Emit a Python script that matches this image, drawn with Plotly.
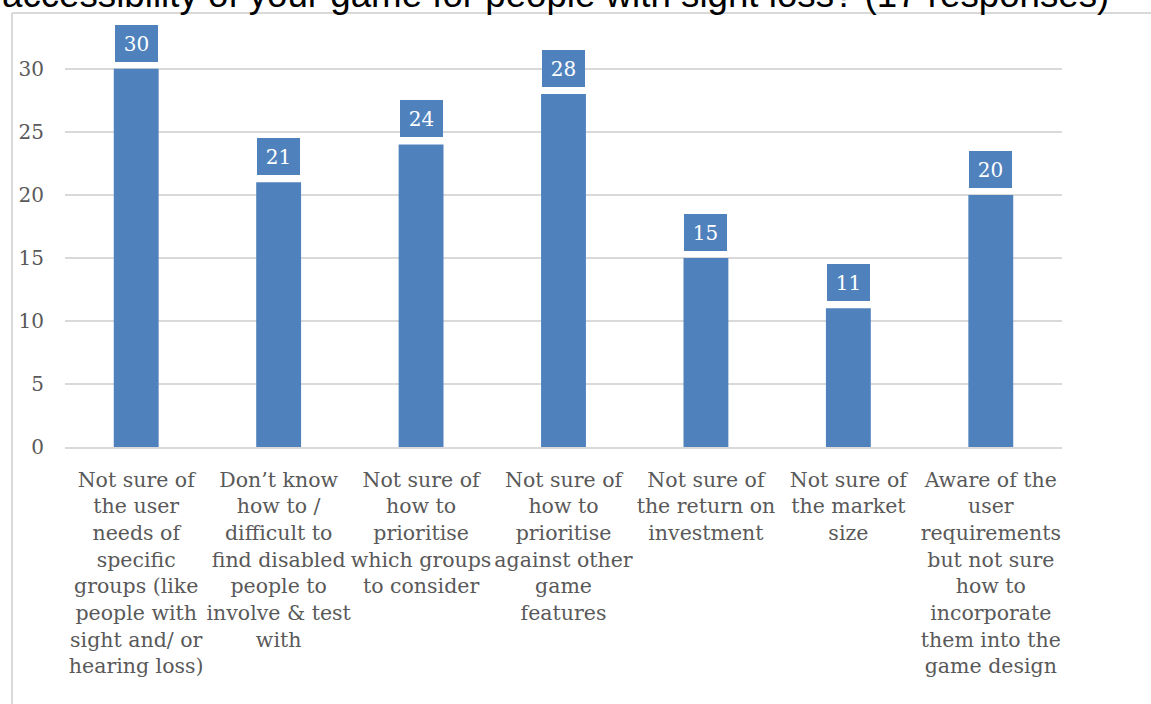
import plotly.graph_objects as go

# Barriers reported by respondents (counts)
categories = [
    "Not sure of<br>the user<br>needs of<br>specific<br>groups (like<br>people with<br>sight and/ or<br>hearing loss)",
    "Don’t know<br>how to /<br>difficult to<br>find disabled<br>people to<br>involve & test<br>with",
    "Not sure of<br>how to<br>prioritise<br>which groups<br>to consider",
    "Not sure of<br>how to<br>prioritise<br>against other<br>game<br>features",
    "Not sure of<br>the return on<br>investment",
    "Not sure of<br>the market<br>size",
    "Aware of the<br>user<br>requirements<br>but not sure<br>how to<br>incorporate<br>them into the<br>game design",
]
values = [30, 21, 24, 28, 15, 11, 20]
y_ticks = [0, 5, 10, 15, 20, 25, 30]
title_text = "accessibility of your game for people with sight loss? (17 responses)"

BAR_BLUE = "#4F81BD"
GRID = "#D9D9D9"
TEXT_GREY = "#595959"
SERIF = "DejaVu Serif"

fig = go.Figure()
fig.add_trace(go.Bar(
    x=categories,
    y=values,
    marker=dict(color=BAR_BLUE, line=dict(width=0)),
    width=0.315,
    hoverinfo="skip",
))

# Value callouts: white numbers on blue boxes above each bar
for cat, val in zip(categories, values):
    fig.add_annotation(
        x=cat, y=val, xref="x", yref="y",
        text=str(val), showarrow=False,
        yanchor="bottom", yshift=7,
        width=43, height=37,
        bgcolor=BAR_BLUE, borderpad=0, borderwidth=0,
        font=dict(family=SERIF, size=20, color="white"),
    )

# Chart title line (runs off the top of the page)
fig.add_annotation(
    x=0.4915, y=1.033, xref="paper", yref="paper",
    text=title_text, showarrow=False,
    xanchor="center", yanchor="bottom",
    font=dict(family="Liberation Sans", size=36.7, color="#000000"),
)

# Chart frame: top and left border
fig.add_shape(type="line", xref="paper", yref="paper",
              x0=-0.0532, x1=1.2, y0=1.0433, y1=1.0433,
              line=dict(color=GRID, width=2))
fig.add_shape(type="line", xref="paper", yref="paper",
              x0=-0.0532, x1=-0.0532, y0=1.0433, y1=-1.0,
              line=dict(color=GRID, width=2))

fig.update_layout(
    width=1151, height=704,
    margin=dict(l=65, r=89, t=31, b=257),
    paper_bgcolor="white", plot_bgcolor="white",
    showlegend=False,
    xaxis=dict(
        showgrid=False, showline=True, linecolor=GRID, linewidth=2,
        ticks="", tickangle=0,
        ticklabelstandoff=13,
        tickfont=dict(family=SERIF, size=20.5, color=TEXT_GREY),
    ),
    yaxis=dict(
        range=[0, 33], tickvals=y_ticks,
        showgrid=True, gridcolor=GRID, gridwidth=2,
        zeroline=False, showline=False, ticks="",
        ticklabelstandoff=20,
        tickfont=dict(family=SERIF, size=20, color=TEXT_GREY),
    ),
)

fig.write_html("out.html")
